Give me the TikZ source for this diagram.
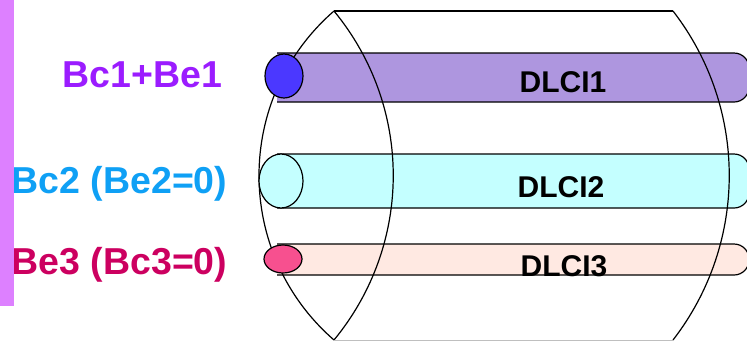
\documentclass[tikz,border=0pt]{standalone}
\usepackage{fontspec}
\setmainfont{Liberation Sans}
\definecolor{barpurple}{HTML}{DD80FF}
\definecolor{lblpurple}{HTML}{9B1CFF}
\definecolor{lblblue}{HTML}{0FA0F5}
\definecolor{lblred}{HTML}{CC0060}
\definecolor{tubeA}{HTML}{AE96DF}
\definecolor{tubeB}{HTML}{C4FFFF}
\definecolor{tubeC}{HTML}{FFE9E2}
\definecolor{capA}{HTML}{4B38FF}
\definecolor{capC}{HTML}{F7508F}
\begin{document}
\begin{tikzpicture}[x=1pt,y=-1pt,
  line width=1.2pt, line join=round,
  lbl/.style={anchor=base east, inner sep=0pt, font=\bfseries\fontsize{37.5}{37.5}\selectfont},
  dlci/.style={anchor=base west, inner sep=0pt, font=\bfseries\fontsize{30}{30}\selectfont},
  tube/.style={draw=black, rounded corners=15pt},
  endcap/.style={draw=black}]
\useasboundingbox (0,0) rectangle (747,341);
\clip (0,0) rectangle (747,341);
% left bar
\fill[barpurple] (0,0) rectangle (13.5,306);
% tubes
\path[tube, fill=tubeA] (277,53) -- (749,53) -- (749,102) -- (277,102);
\path[tube, fill=tubeB] (277,154) -- (749,154) -- (749,208) -- (277,208);
\path[tube, fill=tubeC] (277,244) -- (749,244) -- (749,275) -- (277,275);
% big cylinder outline
\draw (334,11) .. controls (234,98) and (234,253) .. (334,340);
\draw (334,11) .. controls (413,107) and (413,244) .. (334,340);
\draw (334,11) -- (673,11);
\draw[black!25, line width=1pt] (334,340.5) -- (673,340.5);
\draw (673,11) .. controls (748,108) and (748,243) .. (673,340);
% caps
\draw[endcap, fill=capA] (284,76) ellipse [x radius=19, y radius=22];
\draw[endcap, fill=tubeB] (281,181) ellipse [x radius=22, y radius=27];
\draw[endcap, fill=capC] (283,259) ellipse [x radius=19, y radius=14];
% labels
\node[lbl, text=lblpurple] (l1) at (223,87) {Bc1+Be1};
\node[lbl, text=lblblue] (l2) at (228,193) {Bc2 (Be2=0)};
\node[lbl, text=lblred] (l3) at (228,274) {Be3 (Bc3=0)};
\fill[barpurple] (0,0) rectangle (13.5,306);
\node[dlci] (d1) at (519,92) {DLCI1};
\node[dlci] (d2) at (517,197) {DLCI2};
\node[dlci] (d3) at (520,276) {DLCI3};
\end{tikzpicture}
\end{document}
